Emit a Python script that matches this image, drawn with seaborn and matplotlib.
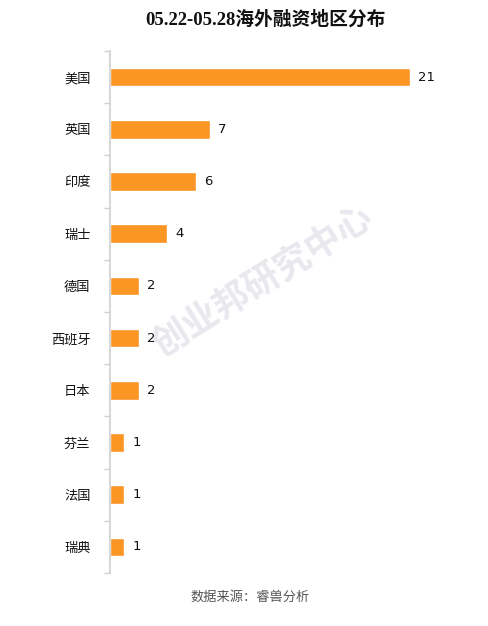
import matplotlib
matplotlib.use("Agg")
import matplotlib.pyplot as plt
import seaborn as sns
import pandas as pd

categories = ["美国", "英国", "印度", "瑞士", "德国", "西班牙", "日本", "芬兰", "法国", "瑞典"]
values = [21, 7, 6, 4, 2, 2, 2, 1, 1, 1]
title = "05.22-05.28海外融资地区分布"
source = "数据来源：睿兽分析"
watermark = "创业邦研究中心"

sns.set_theme(style="white")
plt.rcParams['font.family'] = ['Noto Sans CJK SC', 'DejaVu Sans']

df = pd.DataFrame({"cat": categories, "val": values})

W, H = 488, 626
fig = plt.figure(figsize=(W / 100, H / 100), dpi=100)
ax = fig.add_axes([110 / W, 53 / H, 360 / W, 522 / H])
ax.patch.set_alpha(0)

sns.barplot(data=df, x="val", y="cat", color="#FB9524", width=0.36, ax=ax, saturation=1, zorder=2)

ax.set_xlim(0, 360 / 14.286)
ax.set_xlabel("")
ax.set_ylabel("")
ax.set_xticks([])
for s in ["top", "right", "bottom"]:
    ax.spines[s].set_visible(False)
ax.spines["left"].set_color("#d0d0d0")
ax.spines["left"].set_linewidth(1.2)

ax.set_yticks(range(len(categories)))
ax.set_yticklabels(categories, fontsize=9.5, color="#111111")
ax.tick_params(axis="y", which="major", length=0, pad=14)
ax.set_yticks([i - 0.5 for i in range(len(categories) + 1)], minor=True)
ax.tick_params(axis="y", which="minor", length=4, width=1, color="#d0d0d0", left=True)
ax.set_ylim(len(categories) - 0.5, -0.5)

for i, v in enumerate(values):
    ax.annotate(str(v), xy=(v, i), xytext=(6, 0), textcoords="offset points",
                ha="left", va="center", fontsize=9.5, color="#111111",
                family=['DejaVu Sans'], zorder=5)

ax.text(263 / W, 1 - 282 / H, watermark, ha="center", va="center", fontsize=26,
        fontweight="bold", color="#e8e8ee", rotation=32, zorder=0.5,
        transform=fig.transFigure)

fig.text(265 / W, 1 - 20 / H, title, ha="center", va="center", fontsize=13.5,
         fontweight="bold", color="#111111", family=['Liberation Serif', 'Noto Sans CJK SC'])
fig.text(250 / W, 1 - 597 / H, source, ha="center", va="center", fontsize=9.5,
         color="#555555")

fig.savefig("out.png", dpi=100, facecolor="white")
